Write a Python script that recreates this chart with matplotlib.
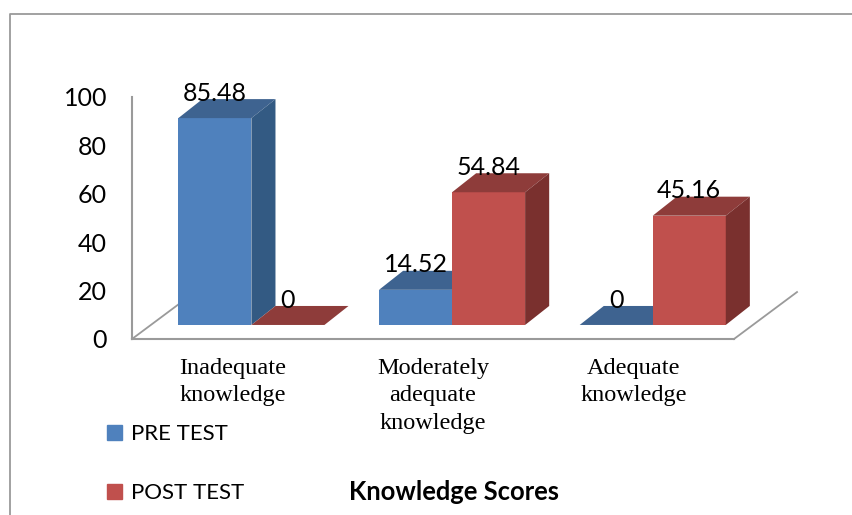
import matplotlib
matplotlib.use("Agg")
from matplotlib import pyplot as plt
from matplotlib.lines import Line2D
from matplotlib.patches import Polygon

categories = ["Inadequate\nknowledge", "Moderately\nadequate\nknowledge", "Adequate\nknowledge"]
pre_test = [85.48, 14.52, 0]
post_test = [0, 54.84, 45.16]
pre_labels = ["85.48", "14.52", "0"]
post_labels = ["0", "54.84", "45.16"]
y_ticks = [0, 20, 40, 60, 80, 100]

W, H = 853, 515
GRAY = "#9a9a9a"

plt.rcParams["font.family"] = ["Lato", "DejaVu Sans"]

fig = plt.figure(figsize=(W / 100, H / 100), dpi=100)
ax = fig.add_axes([132 / W, 1 - 339 / H, 602 / W, 242 / H])
ax.set_xlim(0, 3)
ax.set_ylim(0, 100)

# fake 3d depth, in data units
bar_w = 0.364
base = 5.8
dx = 0.12
dy = 7.85
floor_dx = 0.314
floor_dy = 19.4


def bar3d(x, val, front, top, side):
    ax.bar(x, val, width=bar_w, bottom=base, align="edge", color=front, zorder=3)
    y = base + val
    ax.add_patch(Polygon([(x, y), (x + bar_w, y), (x + bar_w + dx, y + dy), (x + dx, y + dy)],
                         color=top, lw=0, zorder=3, clip_on=False))
    if val > 0:
        ax.add_patch(Polygon([(x + bar_w, base), (x + bar_w + dx, base + dy),
                              (x + bar_w + dx, y + dy), (x + bar_w, y)],
                             color=side, lw=0, zorder=3, clip_on=False))


for i in range(len(categories)):
    x0 = i + 0.595
    bar3d(x0 - bar_w, pre_test[i], "#4F81BD", "#3E6390", "#335A83")
    bar3d(x0, post_test[i], "#C0504D", "#8E3C3A", "#7A302E")
    ax.text(x0 - bar_w / 2, base + pre_test[i] + 10.3, pre_labels[i], ha="center", va="center",
            fontsize=18, color="black", zorder=5)
    ax.text(x0 + bar_w / 2, base + post_test[i] + 10.3, post_labels[i], ha="center", va="center",
            fontsize=18, color="black", zorder=5)

# floor edges
ax.plot([0, floor_dx], [0, floor_dy], color=GRAY, lw=1.3, zorder=1, clip_on=False)
ax.plot([3, 3 + floor_dx], [0, floor_dy], color=GRAY, lw=1.3, zorder=1, clip_on=False)

for s in ["top", "right"]:
    ax.spines[s].set_visible(False)
for s in ["left", "bottom"]:
    ax.spines[s].set_color(GRAY)
    ax.spines[s].set_linewidth(1.5)

ax.set_yticks(y_ticks)
ax.tick_params(axis="y", length=0, pad=18, labelsize=18)
ax.set_xticks([0.5, 1.5, 2.5])
ax.set_xticklabels(categories, family="Liberation Serif", fontsize=17.5, linespacing=1.42)
ax.tick_params(axis="x", length=0, pad=13.5)

handles = [plt.Rectangle((0, 0), 1, 1, color="#4F81BD"), plt.Rectangle((0, 0), 1, 1, color="#C0504D")]
fig.legend(handles, ["PRE TEST", "POST TEST"], loc="upper left",
           bbox_to_anchor=(100 / W, 1 - 417.5 / H), frameon=False, fontsize=16,
           handlelength=0.7, handleheight=0.7, handletextpad=0.4, labelspacing=1.75,
           borderpad=0.3, borderaxespad=0)

fig.text(454 / W, 1 - 492 / H, "Knowledge Scores", ha="center", va="center",
         fontsize=18.4, fontweight="bold", color="black")

# outer chart border
fig.add_artist(Line2D([9.5 / W, 9.5 / W, 1], [0, 1 - 13.5 / H, 1 - 13.5 / H],
                      color=GRAY, lw=1.3, transform=fig.transFigure))

fig.savefig("out.png", dpi=100)
